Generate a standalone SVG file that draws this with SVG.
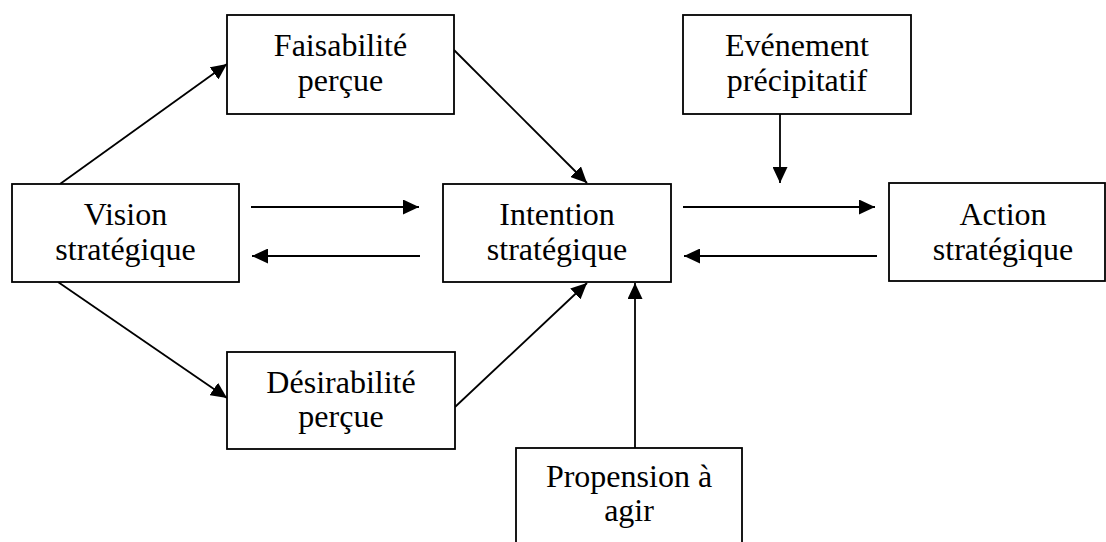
<svg xmlns="http://www.w3.org/2000/svg" width="1106" height="542" viewBox="0 0 1106 542">
<style>
.box{fill:#fff;stroke:#000;stroke-width:1.8}
.lbl{font-family:"Liberation Serif","Times New Roman",serif;font-size:32px;fill:#000;text-anchor:middle}
.con{stroke:#000;stroke-width:1.8;fill:none;marker-end:url(#ah)}
</style>
<defs>
<marker id="ah" markerUnits="userSpaceOnUse" markerWidth="16" markerHeight="15" refX="16" refY="7.5" orient="auto">
<path d="M0,0 L16,7.5 L0,15 z" fill="#000"/>
</marker>
</defs>
<g id="connectors">
<line class="con" x1="60" y1="184" x2="227" y2="64"/>
<line class="con" x1="58" y1="282" x2="227" y2="398"/>
<line class="con" x1="454" y1="50" x2="587" y2="183"/>
<line class="con" x1="455" y1="407" x2="587" y2="283"/>
<line class="con" x1="251" y1="207" x2="419" y2="207"/>
<line class="con" x1="420" y1="256" x2="252" y2="256"/>
<line class="con" x1="683" y1="207" x2="875" y2="207"/>
<line class="con" x1="877" y1="256" x2="684" y2="256"/>
<line class="con" x1="780" y1="114" x2="780" y2="183"/>
<line class="con" x1="635" y1="448" x2="635" y2="283"/>
</g>
<g id="vision">
<rect class="box" x="12" y="184" width="227" height="98"/>
<text class="lbl" x="125.5" y="225">Vision</text>
<text class="lbl" x="125.5" y="260">stratégique</text>
</g>
<g id="faisabilite">
<rect class="box" x="227" y="15" width="227" height="99"/>
<text class="lbl" x="340.5" y="56">Faisabilité</text>
<text class="lbl" x="340.5" y="91">perçue</text>
</g>
<g id="desirabilite">
<rect class="box" x="227" y="352" width="228" height="97"/>
<text class="lbl" x="341" y="393">Désirabilité</text>
<text class="lbl" x="341" y="427">perçue</text>
</g>
<g id="intention">
<rect class="box" x="443" y="184" width="228" height="98"/>
<text class="lbl" x="557" y="225">Intention</text>
<text class="lbl" x="557" y="260">stratégique</text>
</g>
<g id="evenement">
<rect class="box" x="683" y="15" width="228" height="99"/>
<text class="lbl" x="797" y="56">Evénement</text>
<text class="lbl" x="797" y="91">précipitatif</text>
</g>
<g id="action">
<rect class="box" x="889" y="183" width="216" height="98"/>
<text class="lbl" x="1003" y="225">Action</text>
<text class="lbl" x="1003" y="260">stratégique</text>
</g>
<g id="propension">
<rect class="box" x="516" y="448" width="226" height="120"/>
<text class="lbl" x="629" y="487">Propension à</text>
<text class="lbl" x="629" y="521">agir</text>
</g>
</svg>
